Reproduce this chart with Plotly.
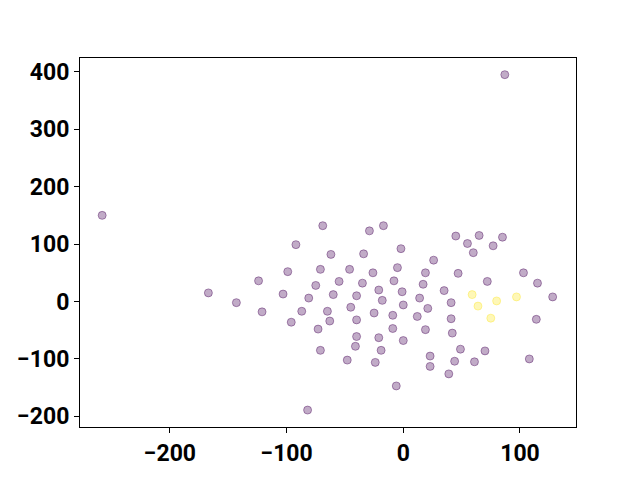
import plotly.graph_objects as go

x_vals = [-258, 87, -167, -143, -124, -121, -103, -99, -96, -92, -87, -82, -81, -75, -73, -71, -71, -69,
          -65, -63, -62, -60, -55, -48, -46, -45, -41, -40, -40, -40, -35, -34, -29, -26, -25, -24,
          -21, -21, -19, -18, -17, -9, -9, -8, -6, -5, -2, -1, 0, 0, 12, 14, 17, 19, 19, 21, 23, 23,
          26, 35, 39, 41, 41, 42, 44, 45, 47, 49, 55, 59, 60, 61, 64, 65, 70, 72, 75, 77, 80, 85,
          97, 103, 108, 114, 115, 128]
y_vals = [150, 395, 15, -2, 36, -18, 13, 52, -36, 99, -17, -189, 6, 28, -48, 56, -85, 132,
          -17, -34, 82, 12, 35, -102, 56, -10, -78, -32, 10, -61, 32, 83, 123, 50, -20, -106,
          20, -63, -85, 2, 132, -24, -47, 36, -147, 59, 92, 17, -6, -68, -26, 6, 30, -49, 50, -12, -95, -113,
          72, 19, -126, -2, -30, -55, -104, 114, 49, -83, 101, 12, 85, -105, -8, 115, -86, 35, -29, 97, 1, 112,
          8, 50, -100, -31, 32, 8]
labels = [0]*86
for i in (69, 72, 76, 78, 80):
    labels[i] = 1

fill = ["rgba(253,231,37,0.33)" if l else "rgba(68,1,84,0.33)" for l in labels]
edge = ["rgba(253,231,37,0.4)" if l else "rgba(68,1,84,0.4)" for l in labels]

fig = go.Figure(go.Scatter(
    x=x_vals, y=y_vals, mode="markers",
    marker=dict(size=8, color=fill, line=dict(width=1, color=edge)),
))

axis_common = dict(showgrid=False, zeroline=False, showline=True, linecolor="black", linewidth=1,
                   mirror=True, ticks="outside", ticklen=5, tickwidth=1, tickcolor="black",
                   automargin=False,
                   tickfont=dict(family="Roboto", size=23, color="black", weight="bold"))
fig.update_xaxes(range=[-277, 148], tickvals=[-200, -100, 0, 100],
                 ticktext=["\u2212200", "\u2212100", "0", "100"], **axis_common)
fig.update_yaxes(range=[-218.5, 424], tickvals=[-200, -100, 0, 100, 200, 300, 400],
                 ticktext=["\u2212200", "\u2212100", "0", "100", "200", "300", "400"], **axis_common)
fig.update_layout(width=640, height=480, margin=dict(l=72, r=72, t=50, b=61),
                  plot_bgcolor="white", paper_bgcolor="white", showlegend=False,
                  font=dict(family="Roboto"))
fig.write_html("out.html")
